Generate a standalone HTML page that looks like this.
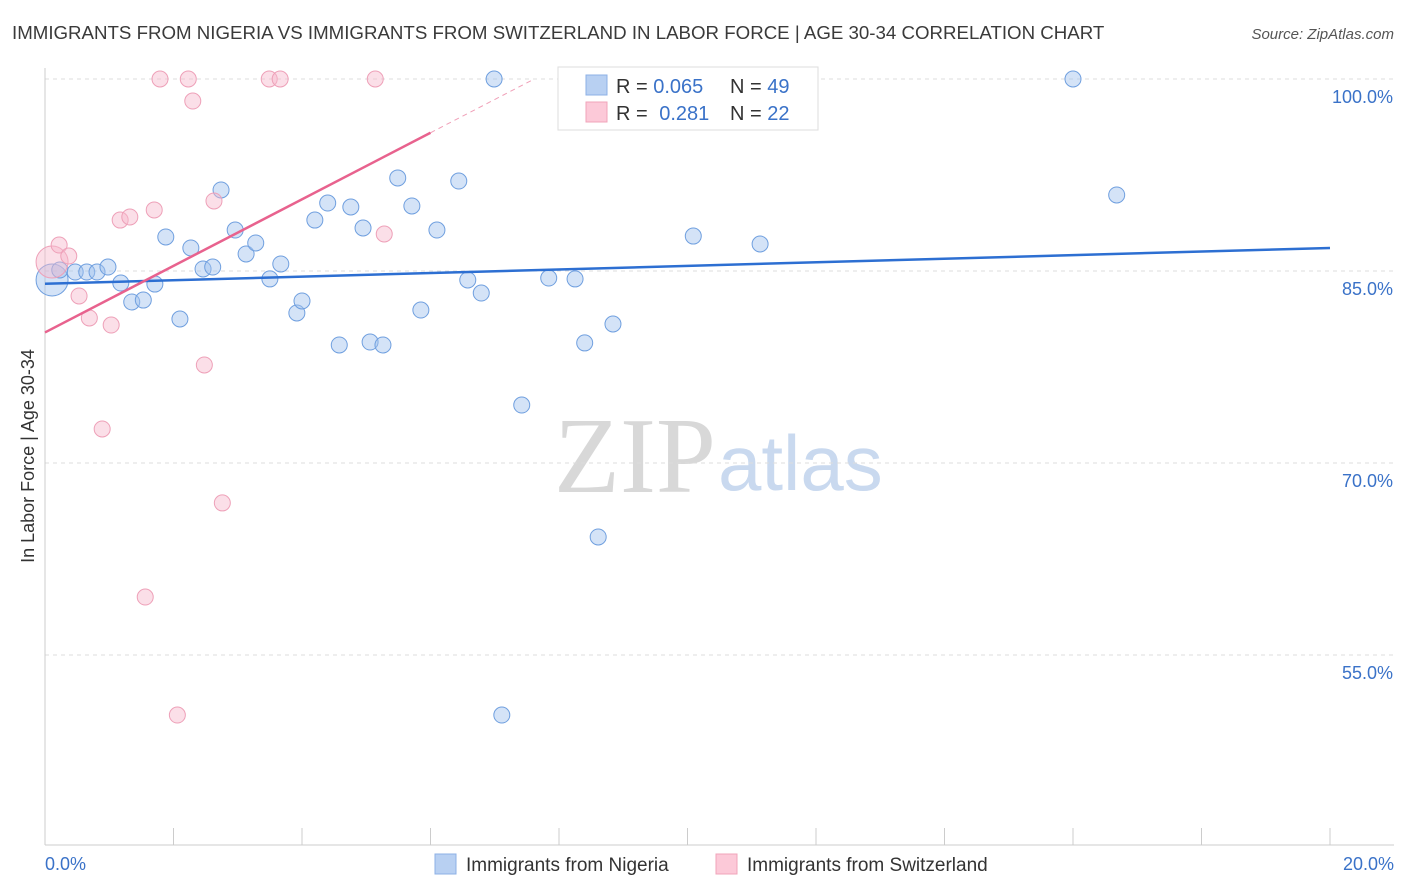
<!DOCTYPE html>
<html><head><meta charset="utf-8"><style>
body{margin:0;background:#fff;font-family:"Liberation Sans",sans-serif}
#c{position:absolute;left:0;top:0}
</style></head><body>
<svg id="c" width="1406" height="892" xmlns="http://www.w3.org/2000/svg">
<text x="12" y="39" font-size="18.7" fill="#3a3a3a">IMMIGRANTS FROM NIGERIA VS IMMIGRANTS FROM SWITZERLAND IN LABOR FORCE | AGE 30-34 CORRELATION CHART</text>
<text x="1394" y="39" font-size="15" fill="#555" text-anchor="end" font-style="italic">Source: ZipAtlas.com</text>
<text x="716" y="492" font-size="108" fill="#d8d8d8" text-anchor="end" font-family="Liberation Serif,serif">ZIP</text>
<text x="718" y="490" font-size="78" fill="#c9d9ef">atlas</text>
<g id="grid"></g><g id="axes"></g><g id="pts"></g><g id="trend"></g>
<text transform="translate(34,456) rotate(-90)" font-size="18" fill="#333" text-anchor="middle">In Labor Force | Age 30-34</text>
<g>
<rect x="558" y="67" width="260" height="63" fill="#fff" stroke="#ddd"/>
<rect x="586" y="75" width="21" height="20" fill="#b8d0f2" stroke="#8db0e6"/>
<rect x="586" y="102" width="21" height="20" fill="#fcc9d8" stroke="#f0a4ba"/>
<text x="616" y="93" font-size="20" fill="#333">R = <tspan fill="#3a72c8">0.065</tspan></text>
<text x="730" y="93" font-size="20" fill="#333">N = <tspan fill="#3a72c8">49</tspan></text>
<text x="616" y="120" font-size="20" fill="#333">R = <tspan fill="#3a72c8" dx="6">0.281</tspan></text>
<text x="730" y="120" font-size="20" fill="#333">N = <tspan fill="#3a72c8">22</tspan></text>
</g>
<g>
<rect x="435" y="854" width="21" height="20" fill="#b8d0f2" stroke="#8db0e6"/>
<text x="466" y="871" font-size="19" fill="#333">Immigrants from Nigeria</text>
<rect x="716" y="854" width="21" height="20" fill="#fcc9d8" stroke="#f0a4ba"/>
<text x="747" y="871" font-size="19" fill="#333">Immigrants from Switzerland</text>
</g>
</svg>
<script>
const blueX=[0.11,0.23,0.47,0.65,0.81,0.98,1.18,1.35,1.53,1.71,1.88,2.10,2.27,2.46,2.61,2.74,2.96,3.13,3.28,3.50,3.67,3.92,4.00,4.20,4.40,4.58,4.76,4.95,5.06,5.26,5.49,5.71,5.85,6.10,6.44,6.58,6.79,6.99,7.11,7.42,7.84,8.25,8.40,8.61,8.84,10.09,11.13,16.00,16.68];
const blueY=[84.30,85.08,84.92,84.92,84.92,85.31,84.06,82.58,82.73,83.98,87.66,81.25,86.80,85.16,85.31,91.33,88.20,86.33,87.19,84.38,85.55,81.72,82.66,88.98,90.31,79.22,90.0,88.36,79.45,79.22,92.27,90.08,81.95,88.20,92.03,84.30,83.28,100,50.31,74.53,84.45,84.38,79.38,64.22,80.86,87.73,87.11,100,90.94];
const pinkX=[0.11,0.22,0.37,0.53,0.69,0.89,1.03,1.17,1.32,1.56,1.70,1.79,2.06,2.23,2.30,2.48,2.63,2.76,3.49,3.66,5.14,5.28];
const pinkY=[85.70,87.03,86.17,83.05,81.33,72.66,80.78,88.98,89.22,59.53,89.77,100,50.31,100,98.28,77.66,90.47,66.88,100,100,100,87.89];
const yTicks=[100,85,70,55];
const blueTrend=[84.0,86.8];
const pinkTrend=[80.2,2.6];
const NS="http://www.w3.org/2000/svg";
const sx=v=>45+v*64.25, sy=v=>79+(100-v)*12.8;
function mk(tag,attrs,parent){const e=document.createElementNS(NS,tag);for(const k in attrs)e.setAttribute(k,attrs[k]);document.getElementById(parent).appendChild(e);return e;}
yTicks.forEach(t=>{
 const l=mk('line',{x1:45,x2:1394,y1:sy(t),y2:sy(t),stroke:'#ddd','stroke-dasharray':'4,4'},'grid');
 
 
 const tx=mk('text',{x:1393,y:sy(t)+24,'font-size':18,fill:'#3a72c8','text-anchor':'end'},'grid');
 tx.textContent=t.toFixed(1)+'%';
 
 
});
mk('line',{x1:45,x2:45,y1:68,y2:845,stroke:'#ccc'},'axes');
mk('line',{x1:45,x2:1394,y1:845,y2:845,stroke:'#ccc'},'axes');
for(let i=0;i<=10;i++){const t=mk('line',{x1:sx(i*2),x2:sx(i*2),y1:828,y2:845,stroke:'#ccc'},'axes');
 
 }
[[0,'start','0.0%',45],[20,'end','20.0%',1394]].forEach(a=>{const t=mk('text',{x:a[3],y:870,'font-size':18,fill:'#3a72c8','text-anchor':a[1]},'axes');t.textContent=a[2];
 
 });
function pts(X,Y,fill,stroke,name){X.forEach((x,i)=>{const c=mk('circle',{cx:sx(x),cy:sy(Y[i]),r:i==0?16:8,fill:fill,stroke:stroke,'stroke-width':1},'pts');
 
 });}
pts(blueX,blueY,'rgba(160,192,238,0.45)','#6f9fdf','nigeria-point');
pts(pinkX,pinkY,'rgba(247,184,204,0.45)','#eea0b8','switzerland-point');
const bl=mk('line',{x1:sx(0),y1:sy(blueTrend[0]),x2:sx(20),y2:sy(blueTrend[1]),stroke:'#2d6fd2','stroke-width':2.5},'trend');


const pl=mk('line',{x1:sx(0),y1:sy(pinkTrend[0]),x2:sx(6),y2:sy(pinkTrend[0]+6*pinkTrend[1]),stroke:'#e8628e','stroke-width':2.5},'trend');


const pd=mk('line',{x1:sx(6),y1:sy(pinkTrend[0]+6*pinkTrend[1]),x2:sx(7.6),y2:sy(pinkTrend[0]+7.6*pinkTrend[1]),stroke:'#f0a0b8','stroke-width':1,'stroke-dasharray':'5,4'},'trend');


</script>
</body></html>
